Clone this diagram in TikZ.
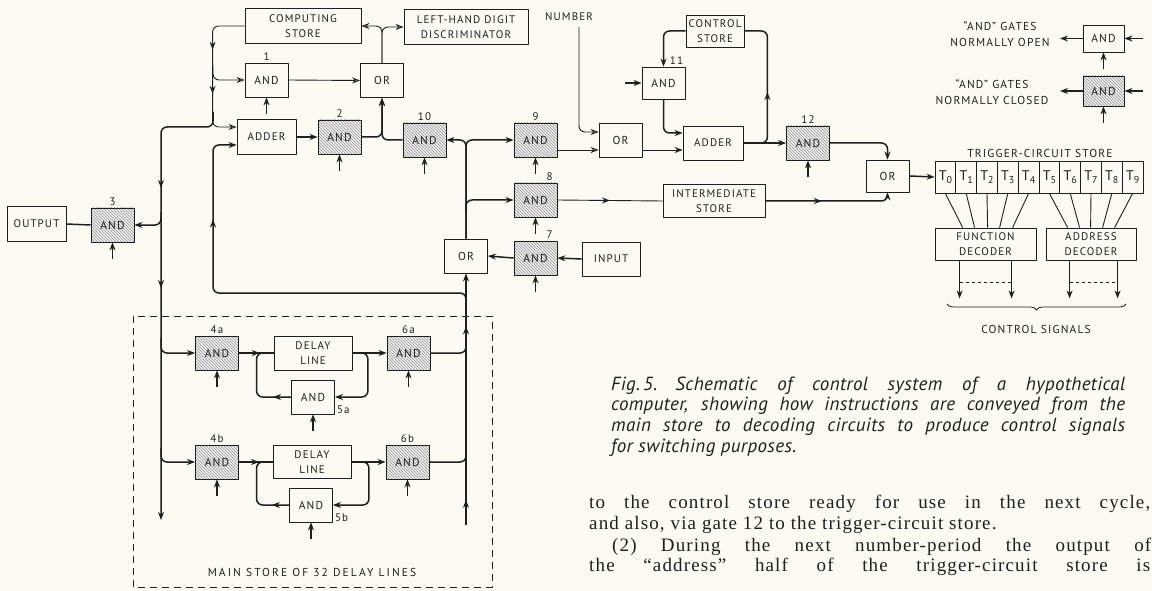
\documentclass[tikz,border=0pt]{standalone}
\usepackage{fontspec}
\setmainfont{PT Sans}
\newfontfamily\diag{PT Sans}[LetterSpace=10]
\newfontfamily\widediag{PT Sans}[LetterSpace=18]
\newfontfamily\captfont{PT Sans}[LetterSpace=2]
\newfontfamily\bodyfont{Liberation Serif}[LetterSpace=6]
\usetikzlibrary{arrows.meta, calc, patterns, decorations.markings, decorations.pathreplacing}
\definecolor{Ink}{HTML}{1F1F1F}
\definecolor{Paper}{HTML}{FBFBF4}
\newcommand{\tsub}[1]{\raisebox{-0.45ex}{\fontsize{10}{10}\selectfont #1}}

\begin{document}
\begin{tikzpicture}[
    x=1pt, y=-1pt, >={Stealth[length=8pt,width=6pt]}, line join=round,
    gate/.style={draw=Ink, line width=0.8pt, minimum width=43pt, minimum height=34pt,
      inner sep=0pt, text=Ink, font=\diag\fontsize{11.5}{12}\selectfont},
    sgate/.style={gate, preaction={fill=black!6}, pattern=north west lines, pattern color=black!42},
    blk/.style={gate, align=center, font=\diag\fontsize{11}{15}\selectfont},
    tcell/.style={draw=Ink, line width=0.8pt, minimum width=20.8pt, minimum height=32pt,
      inner sep=0pt, text=Ink, font=\fontsize{14}{14}\selectfont},
    conn/.style={draw=Ink, line width=1.5pt, rounded corners=6pt},
    lconn/.style={draw=Ink, line width=0.9pt, rounded corners=6pt},
    ctrlarr/.style={draw=Ink, line width=1.1pt, ->},
    oarrow/.style={-{Stealth[open,length=8pt,width=6pt]}},
    num/.style={font=\diag\fontsize{11}{12}\selectfont, text=Ink, inner sep=1pt},
    lgtext/.style={font=\diag\fontsize{11.5}{16}\selectfont, text=Ink, align=center},
    amid/.style={postaction={decorate, decoration={markings,
      mark=at position #1 with {\arrow{Stealth[length=8pt,width=6pt]}}}}},
    omid/.style={postaction={decorate, decoration={markings,
      mark=at position #1 with {\arrow{Stealth[open,length=8pt,width=6pt]}}}}},
  ]
  \path[use as bounding box, fill=Paper] (0,0) rectangle (1152,591);

  % upper left: computing store, adder, gates 1 2 10
  \node[blk, minimum width=116pt, minimum height=35pt] (cstore) at (303,26) {COMPUTING\\STORE};
  \node[blk, minimum width=124pt, minimum height=35pt] (lhd) at (466,27) {LEFT-HAND DIGIT\\DISCRIMINATOR};
  \node[gate] (and1) at (266.5,80) {AND};
  \node[gate] (or1) at (382,80.5) {OR};
  \node[blk, minimum width=59pt, minimum height=35pt] (adder1) at (266.5,137) {ADDER};
  \node[sgate] (and2) at (339.5,137) {AND};
  \node[sgate] (and10) at (424.5,140) {AND};
  \node[sgate] (and3) at (112.5,225) {AND};
  \node[blk, minimum width=59pt, minimum height=35pt] (output) at (36.5,224) {OUTPUT};

  % middle: gates 7 8 9, input, intermediate store
  \node[sgate] (and9) at (535.5,140) {AND};
  \node[gate] (or3) at (620.5,140) {OR};
  \node[sgate] (and8) at (535.5,200) {AND};
  \node[blk, minimum width=102pt, minimum height=33pt] (inter) at (714,201) {INTERMEDIATE\\STORE};
  \node[gate] (or2) at (466,256) {OR};
  \node[sgate] (and7) at (535.5,258) {AND};
  \node[blk, minimum width=58pt, minimum height=34pt] (input) at (611,259) {INPUT};
  \node[num] (number) at (569,17) {NUMBER};

  % control store loop, gates 11 12
  \node[blk, minimum width=58pt, minimum height=32pt] (ctrlstore) at (715,31) {CONTROL\\STORE};
  \node[gate, minimum height=32pt] (and11) at (663.5,83) {AND};
  \node[blk, minimum width=60pt, minimum height=34pt] (adder2) at (713,143) {ADDER};
  \node[sgate] (and12) at (808,143) {AND};
  \node[gate, minimum height=32pt] (or4) at (887.5,176) {OR};

  % main store
  \node[sgate] (and4a) at (217,353) {AND};
  \node[blk, minimum width=78pt, minimum height=34pt] (dla) at (313,353) {DELAY\\LINE};
  \node[sgate] (and6a) at (408.5,353) {AND};
  \node[gate] (and5a) at (313,397) {AND};
  \node[sgate] (and4b) at (217,462) {AND};
  \node[blk, minimum width=78pt, minimum height=33pt] (dlb) at (312,462) {DELAY\\LINE};
  \node[sgate] (and6b) at (407.5,462) {AND};
  \node[gate] (and5b) at (311,505) {AND};
  \draw[Ink, line width=0.8pt, dash pattern=on 7pt off 5pt] (133,316) rectangle (492,587);
  \node[num, font=\widediag\fontsize{11.5}{12}\selectfont] (mslabel) at (312,572) {MAIN STORE OF 32 DELAY LINES};

  % legend
  \node[gate, minimum width=41pt, minimum height=27pt] (lgopen) at (1103.5,38.5) {AND};
  \node[sgate, minimum width=41pt, minimum height=30pt] (lgclosed) at (1103.5,91) {AND};
  \node[lgtext] (lgotext) at (1000,34.5) {“AND” GATES\\NORMALLY OPEN};
  \node[lgtext] (lgctext) at (992,92.5) {“AND” GATES\\NORMALLY CLOSED};

  % trigger-circuit store and decoders
  \foreach \i in {0,...,9}
    \node[tcell] (t\i) at ({945.4+20.8*\i},177) {T\tsub{\i}};
  \node[num, font=\diag\fontsize{11.5}{12}\selectfont] (tlabel) at (1040,153) {TRIGGER-CIRCUIT STORE};
  \node[blk, minimum width=101pt, minimum height=32pt] (fdec) at (985.5,244) {FUNCTION\\DECODER};
  \node[blk, minimum width=90pt, minimum height=32pt] (adec) at (1091,244) {ADDRESS\\DECODER};
  \node[num, font=\diag\fontsize{11.5}{12}\selectfont] (ctlsig) at (1036,329) {CONTROL SIGNALS};

  % ports and junctions
  \coordinate (a1in1) at ($(adder1.west)+(0,-10)$);
  \coordinate (a1in2) at ($(adder1.west)+(0,8)$);
  \coordinate (or3in1) at ($(or3.west)+(0,-8)$);
  \coordinate (or3in2) at ($(or3.west)+(0,10)$);
  \coordinate (or3out) at ($(or3.east)+(0,10)$);
  \coordinate (and9out) at ($(and9.east)+(0,10)$);
  \coordinate (a2in1) at ($(adder2.west)+(0,-10)$);
  \coordinate (a2in2) at ($(adder2.west)+(0,7)$);
  \coordinate (jone) at (213,66);
  \coordinate (bustop) at (213,112);
  \coordinate (busend) at (161,520);
  \coordinate (rbus) at (466,525);
  \coordinate (rtap) at (466,310);
  \coordinate (numtop) at (579,27);
  \coordinate (a11in) at (625,83);
  \coordinate (lgoin) at (1143,38.5);
  \coordinate (lgoout) at (1060,38.5);
  \coordinate (lgcin) at (1143,91);
  \coordinate (lgcout) at (1060,91);
  \coordinate (brR) at (1126,304);
  \coordinate (brL) at (947,304);

  % computing store, output bus
  \draw[lconn, oarrow, omid=0.35, omid=0.64] (cstore.west) -| ($(a1in1)+(-24,0)$) -- (a1in1);
  \draw[lconn, oarrow] (jone) |- (and1.west);
  \draw[conn, ->, amid=0.27, amid=0.49] (bustop) |- (161,127) -- (busend);
  \draw[conn, ->] (161,212) |- (and3.east);
  \draw[conn] (and3.west) -- (output.east);
  \draw[lconn, oarrow] (and1.east) -- (or1.west);
  \draw[conn, ->] (adder1.east) -- (and2.west);
  \draw[conn, ->] (and2.east) -| (or1.south);
  \draw[conn, ->] (and10.west) -| (or1.south);
  \draw[lconn, oarrow] (or1.north) |- (cstore.east);
  \draw[lconn, oarrow] (or1.north) |- (lhd.west);

  % main store loops
  \draw[conn, ->] (161,338) |- (and4a.west);
  \draw[conn, ->] (161,448) |- (and4b.west);
  \draw[conn, omid=0.6] (and4a.east) -- (dla.west);
  \draw[conn, omid=0.6] (and4b.east) -- (dlb.west);
  \draw[conn, ->] (dla.east) -- (and6a.west);
  \draw[conn, ->] (dlb.east) -- (and6b.west);
  \draw[conn, ->] ($(dla.east)+(6,0)$) -| ($(and5a.east)+(33,0)$) -- (and5a.east);
  \draw[conn, ->] ($(dlb.east)+(6,0)$) -| ($(and5b.east)+(36,0)$) -- (and5b.east);
  \draw[conn, amid=0.2] (and5a.west) -| ($(dla.west)+(-17,0)$) -- (dla.west);
  \draw[conn, amid=0.2] (and5b.west) -| ($(dlb.west)+(-16,0)$) -- (dlb.west);
  \draw[conn] (and6a.east) -| (466,340);
  \draw[conn] (and6b.east) -| (466,450);
  \draw[conn, ->, amid=0.1, amid=0.79] (rbus) -- (or2.south);
  \draw[conn, oarrow, amid=0.78] (rtap) |- (213,293) |- (a1in2);

  % distribution from OR to gates 8 9 10
  \draw[conn, oarrow] (or2.north) |- (and10.east);
  \draw[conn, ->] (or2.north) |- (and9.west);
  \draw[conn, ->] (466,212) |- (and8.west);
  \draw[conn, ->] (and7.west) -- (or2.east);
  \draw[conn, ->] (input.west) -- (and7.east);
  \draw[lconn, oarrow] (and9out) -- (or3in2);
  \draw[lconn, oarrow] (numtop) |- (or3in1);
  \draw[lconn, ->] (or3out) -- (a2in2);
  \draw[lconn, omid=0.5] (and8.east) -- (inter.west);

  % control store loop
  \draw[conn, ->] (ctrlstore.west) -| (and11.north);
  \draw[conn, ->] (a11in) -- (and11.west);
  \draw[conn, ->] (and11.south) |- (a2in1);
  \draw[conn, amid=0.47] (adder2.east) -| ($(ctrlstore.east)+(23,0)$) -- (ctrlstore.east);
  \draw[conn, ->] (adder2.east) -- (and12.west);
  \draw[conn, ->] (and12.east) -| (or4.north);
  \draw[conn, ->, amid=0.44] (inter.east) -| (or4.south);
  \draw[conn, ->] (or4.east) -- (t0.west);

  % decoders
  \foreach \i/\dx in {0/28,1/40,2/53,3/65,4/78}
    \draw[Ink, line width=0.9pt] (t\i.south) -- ($(fdec.north west)+(\dx,0)$);
  \foreach \i/\dx in {5/22,6/34,7/45,8/57,9/69}
    \draw[Ink, line width=0.9pt] (t\i.south) -- ($(adec.north west)+(\dx,0)$);
  \foreach \n/\dx in {fdec/25,fdec/77,adec/24,adec/72}
    \draw[ctrlarr, line width=0.9pt] ($(\n.south west)+(\dx,0)$) -- ++(0,38);
  \draw[Ink, line width=0.8pt, dashed] ($(fdec.south west)+(25,22)$) -- ($(fdec.south west)+(77,22)$);
  \draw[Ink, line width=0.8pt, dashed] ($(adec.south west)+(24,22)$) -- ($(adec.south west)+(72,22)$);
  \draw[Ink, line width=0.8pt, decorate, decoration={brace, amplitude=6pt}] (brR) -- (brL);

  % legend connectors
  \draw[conn, ->] (lgoin) -- (lgopen.east);
  \draw[conn, ->] (lgopen.west) -- (lgoout);
  \draw[conn, ->] (lgcin) -- (lgclosed.east);
  \draw[conn, ->] (lgclosed.west) -- (lgcout);

  % control inputs from below
  \foreach \g in {and1,and2,and3,and4a,and4b,and5a,and5b,and6a,and6b,and7,and8,and9,and10,and12,lgopen,lgclosed}
    \draw[ctrlarr] ($(\g.south)+(0,17)$) -- (\g.south);

  % gate numbers
  \foreach \g/\t in {and1/1,and2/2,and3/3,and9/9,and10/10,and12/12,and4a/4a,and4b/4b,and6a/6a,and6b/6b}
    \node[num, anchor=south] at ($(\g.north)+(0,-1)$) {\t};
  \node[num, anchor=south] at ($(and8.north)+(14,-1)$) {8};
  \node[num, anchor=south] at ($(and7.north)+(14,-1)$) {7};
  \node[num, anchor=south] at ($(and11.north)+(13,-1)$) {11};
  \node[num, anchor=west] at ($(and5a.south east)+(1,-5)$) {5a};
  \node[num, anchor=west] at ($(and5b.south east)+(1,-5)$) {5b};

  % caption and running text
  \begin{scope}[every node/.style={anchor=base west, inner sep=0pt, text=Ink}]
    \node (cap1) at (611,390) {\captfont\itshape\fontsize{19}{20}\selectfont\makebox[514pt][s]{Fig.\kern3pt 5.\kern18pt Schematic of control system of a hypothetical}};
    \node (cap2) at (611,410) {\captfont\itshape\fontsize{19}{20}\selectfont\makebox[514pt][s]{computer, showing how instructions are conveyed from the}};
    \node (cap3) at (611,431) {\captfont\itshape\fontsize{19}{20}\selectfont\makebox[514pt][s]{main store to decoding circuits to produce control signals}};
    \node (cap4) at (611,452) {\captfont\itshape\fontsize{19}{20}\selectfont for switching purposes.};
    \node (txt1) at (589,508) {\bodyfont\fontsize{19}{21}\selectfont\makebox[561pt][s]{to the control store ready for use in the next cycle,}};
    \node (txt2) at (589,529) {\bodyfont\fontsize{19}{21}\selectfont and also, via gate 12 to the trigger-circuit store.};
    \node (txt3) at (612,551) {\bodyfont\fontsize{19}{21}\selectfont\makebox[539pt][s]{(2) During the next number-period the output of}};
    \node (txt4) at (589,571) {\bodyfont\fontsize{19}{21}\selectfont\makebox[561pt][s]{the “address” half of the trigger-circuit store is}};
  \end{scope}
\end{tikzpicture}
\end{document}
